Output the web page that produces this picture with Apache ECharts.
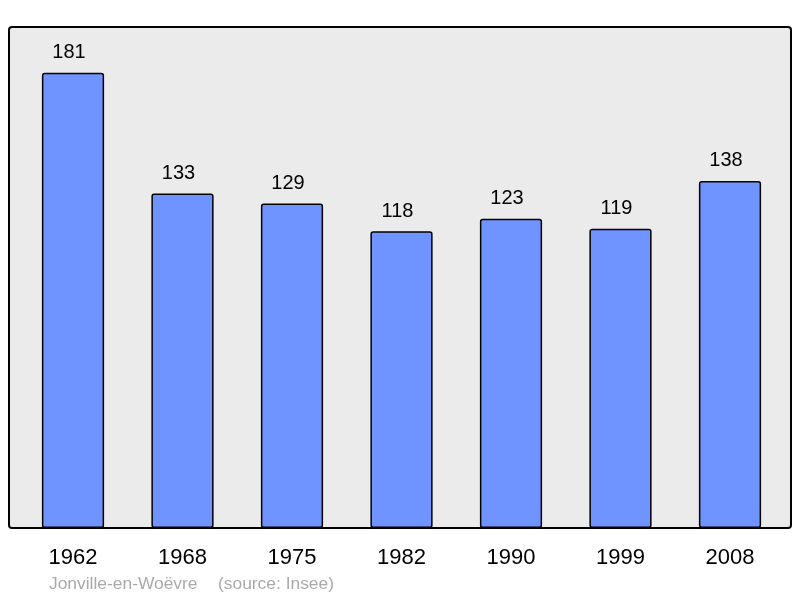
<!DOCTYPE html>
<html>
<head>
<meta charset="utf-8">
<script src="https://cdn.jsdelivr.net/npm/echarts@6/dist/echarts.min.js"></script>
<style>
  html, body { margin: 0; padding: 0; background: #fff; }
  #chart { width: 800px; height: 598px; }
</style>
</head>
<body>
<div id="chart"></div>
<script>
const years = ["1962", "1968", "1975", "1982", "1990", "1999", "2008"];
const population = [181, 133, 129, 118, 123, 119, 138];
const placeName = "Jonville-en-Woëvre";
const sourceName = "(source: Insee)";

const chart = echarts.init(document.getElementById("chart"));
const font = "'Liberation Sans', Arial, sans-serif";

chart.setOption({
  animation: false,
  graphic: [
    {
      type: "rect",
      z: -10,
      shape: { x: 9, y: 27, width: 782, height: 501, r: 3 },
      style: { fill: "#ebebeb", stroke: "#000", lineWidth: 2 },
    },
    {
      type: "text",
      left: 49,
      top: 576,
      style: { text: placeName, fill: "#aaaaaa", font: `17.4px ${font}` },
    },
    {
      type: "text",
      left: 218,
      top: 576,
      style: { text: sourceName, fill: "#aaaaaa", font: `17.4px ${font}` },
    },
  ],
  grid: { left: 18.25, right: 15.25, top: 25, bottom: 70 },
  xAxis: {
    type: "category",
    data: years,
    axisLine: { show: false },
    axisTick: { show: false },
    axisLabel: { color: "#000", fontSize: 22, fontFamily: font, margin: 19 },
  },
  yAxis: {
    type: "value",
    min: 0,
    max: 200,
    show: false,
    splitLine: { show: false },
  },
  series: [
    {
      type: "bar",
      data: population,
      barWidth: "56.8%",
      itemStyle: { color: "#7094ff", borderColor: "#000", borderWidth: 1.5, borderRadius: 2 },
      label: {
        show: true,
        position: "top",
        distance: 10,
        offset: [-4, 0],
        color: "#000",
        fontSize: 20,
        fontFamily: font,
      },
    },
  ],
});
</script>
</body>
</html>
